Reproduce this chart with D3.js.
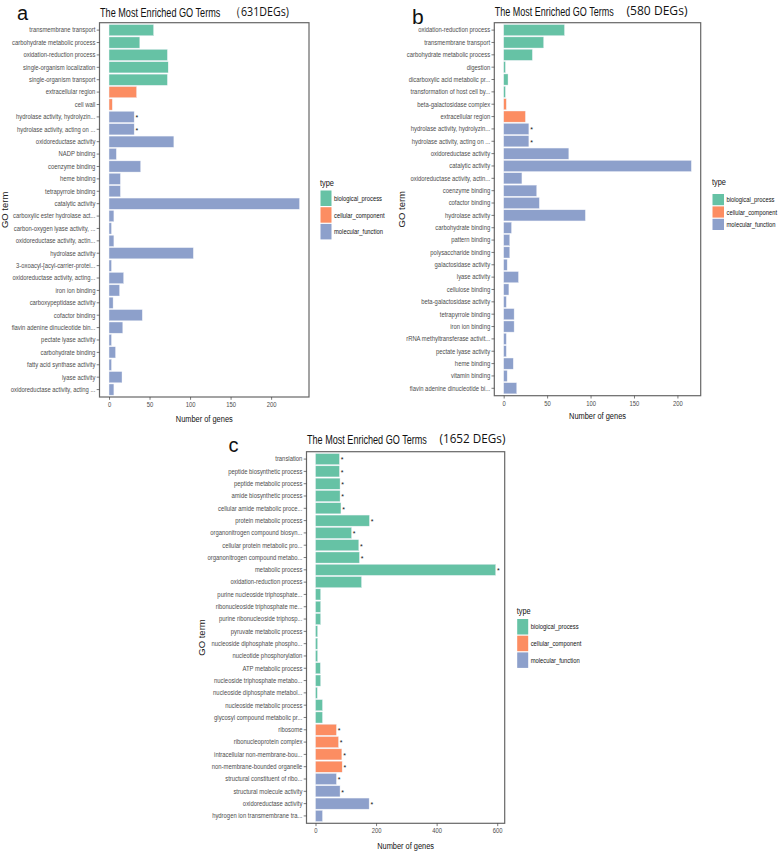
<!DOCTYPE html>
<html><head><meta charset="utf-8">
<script src="https://cdn.jsdelivr.net/npm/d3@7"></script>
<style>body{margin:0;background:#fff} svg{display:block}</style>
</head><body><svg id="c" width="778" height="852"></svg>
<script>
const typeNames = ["biological_process","cellular_component","molecular_function"];
const typeColors = ["#66C2A5","#FC8D62","#8DA0CB"];

// ---- Panel a ----
const catsA = ["transmembrane transport","carbohydrate metabolic process","oxidation-reduction process","single-organism localization","single-organism transport","extracellular region","cell wall","hydrolase activity, hydrolyzin...","hydrolase activity, acting on ...","oxidoreductase activity","NADP binding","coenzyme binding","heme binding","tetrapyrrole binding","catalytic activity","carboxylic ester hydrolase act...","carbon-oxygen lyase activity, ...","oxidoreductase activity, actin...","hydrolase activity","3-oxoacyl-[acyl-carrier-protei...","oxidoreductase activity, acting...","iron ion binding","carboxypeptidase activity","cofactor binding","flavin adenine dinucleotide bin...","pectate lyase activity","carbohydrate binding","fatty acid synthase activity","lyase activity","oxidoreductase activity, acting ..."];
const valsA = [55,38,72,73,72,34,4,31,31,80,9,39,14,14,235,6,3,6,104,3,18,13,5,41,17,3,8,3,16,6];
const typesA = [0,0,0,0,0,1,1,2,2,2,2,2,2,2,2,2,2,2,2,2,2,2,2,2,2,2,2,2,2,2];
const starsA = [0,0,0,0,0,0,0,1,1,0,0,0,0,0,0,0,0,0,0,0,0,0,0,0,0,0,0,0,0,0];
const ticksA = [0,50,100,150,200];

// ---- Panel b ----
const catsB = ["oxidation-reduction process","transmembrane transport","carbohydrate metabolic process","digestion","dicarboxylic acid metabolic pr...","transformation of host cell by...","beta-galactosidase complex","extracellular region","hydrolase activity, hydrolyzin...","hydrolase activity, acting on ...","oxidoreductase activity","catalytic activity","oxidoreductase activity, actin...","coenzyme binding","cofactor binding","hydrolase activity","carbohydrate binding","pattern binding","polysaccharide binding","galactosidase activity","lyase activity","cellulose binding","beta-galactosidase activity","tetrapyrrole binding","iron ion binding","rRNA methyltransferase activit...","pectate lyase activity","heme binding","vitamin binding","flavin adenine dinucleotide bi..."];
const valsB = [70,46,33,2,5,2,3,25,29,29,75,216,21,38,41,94,9,7,7,4,17,6,3,12,12,3,3,11,4,15];
const typesB = [0,0,0,0,0,0,1,1,2,2,2,2,2,2,2,2,2,2,2,2,2,2,2,2,2,2,2,2,2,2];
const starsB = [0,0,0,0,0,0,0,0,1,1,0,0,0,0,0,0,0,0,0,0,0,0,0,0,0,0,0,0,0,0];
const ticksB = [0,50,100,150,200];

// ---- Panel c ----
const catsC = ["translation","peptide biosynthetic process","peptide metabolic process","amide biosynthetic process","cellular amide metabolic proce...","protein metabolic process","organonitrogen compound biosyn...","cellular protein metabolic pro...","organonitrogen compound metabo...","metabolic process","oxidation-reduction process","purine nucleoside triphosphate...","ribonucleoside triphosphate me...","purine ribonucleoside triphosp...","pyruvate metabolic process","nucleoside diphosphate phospho...","nucleotide phosphorylation","ATP metabolic process","nucleoside triphosphate metabo...","nucleoside diphosphate metabol...","nucleoside metabolic process","glycosyl compound metabolic pr...","ribosome","ribonucleoprotein complex","intracellular non-membrane-bou...","non-membrane-bounded organelle","structural constituent of ribo...","structural molecule activity","oxidoreductase activity","hydrogen ion transmembrane tra..."];
const valsC = [79,79,81,81,84,178,119,143,145,595,152,17,17,17,7,7,7,16,17,6,23,23,69,76,87,88,69,81,177,23];
const typesC = [0,0,0,0,0,0,0,0,0,0,0,0,0,0,0,0,0,0,0,0,0,0,1,1,1,1,2,2,2,2];
const starsC = [1,1,1,1,1,1,1,1,1,1,0,0,0,0,0,0,0,0,0,0,0,0,1,1,1,1,1,1,1,0];
const ticksC = [0,200,400,600];

const SANS = "'Liberation Sans',Arial,sans-serif";
const svg = d3.select("#c");

function measure(str, size, family) {
  const t = svg.append("text").attr("font-size", size).attr("font-family", family).text(str);
  const w = t.node().getComputedTextLength(); t.remove(); return w;
}
const TICK_FS = 7.3;
const SQ = 72 / measure("oxidation-reduction process", TICK_FS, SANS); // condensed look

// horizontal squeeze via transform (keeps anchor position)
function squeeze(sel, f) {
  sel.each(function(){
    const s = d3.select(this);
    const x0 = +s.attr("x") || 0, y0 = +s.attr("y") || 0;
    const prev = s.attr("transform") || "";
    s.attr("x", 0).attr("y", 0).attr("transform", `${prev} translate(${x0},${y0}) scale(${f},1)`);
  });
}
function fit(sel, target) {
  sel.each(function(){ squeeze(d3.select(this), target / this.getComputedTextLength()); });
}

function panel(o) {
  const g = svg.append("g");
  const max = d3.max(o.vals);
  const x = d3.scaleLinear().domain([-0.05*max, 1.05*max]).range([o.l, o.r]);
  const y = d3.scaleBand().domain(o.cats).range([o.t, o.b]).paddingInner(0.1).paddingOuter(0.15);
  const data = o.cats.map((c,i)=>({c, v:o.vals[i], t:o.types[i], s:o.stars[i]}));

  g.selectAll("rect.bar").data(data).enter().append("rect")
    .attr("class","bar")
    .attr("x", x(0)).attr("y", d=>y(d.c))
    .attr("width", d=>x(d.v)-x(0)).attr("height", y.bandwidth())
    .attr("fill", d=>typeColors[d.t]).attr("stroke","#eef1f7").attr("stroke-width",0.4);

  g.selectAll("text.star").data(data.filter(d=>d.s)).enter().append("text")
    .attr("x", d=>x(d.v)+1.3).attr("y", d=>y(d.c)+y.bandwidth()/2+3.3)
    .attr("font-size", 7).attr("font-family", SANS).attr("fill","#111").text("*");

  g.append("rect").attr("x",o.l).attr("y",o.t).attr("width",o.r-o.l).attr("height",o.b-o.t)
    .attr("fill","none").attr("stroke","#666").attr("stroke-width",1.2);

  const ya = g.append("g").attr("transform",`translate(${o.l},0)`).call(d3.axisLeft(y).tickSize(2.8).tickPadding(1.3));
  ya.select(".domain").remove();
  ya.selectAll("line").attr("stroke","#444").attr("stroke-width",0.7);
  ya.selectAll("text").attr("font-family",SANS).attr("font-size",TICK_FS).attr("fill","#4d4d4d").call(squeeze, SQ);

  const xa = g.append("g").attr("transform",`translate(0,${o.b})`).call(d3.axisBottom(x).tickValues(o.ticks).tickSize(2.8).tickPadding(2));
  xa.select(".domain").remove();
  xa.selectAll("line").attr("stroke","#444").attr("stroke-width",0.7);
  xa.selectAll("text").attr("font-family",SANS).attr("font-size",TICK_FS).attr("fill","#4d4d4d").call(squeeze, SQ);

  g.append("text").attr("x",(o.l+o.r)/2).attr("y",o.xlabY).attr("text-anchor","middle")
    .attr("font-family",SANS).attr("font-size",9.5).attr("fill","#111").text("Number of genes").call(fit, 57);
  g.append("text").attr("transform",`translate(${o.ylabX},${(o.t+o.b)/2}) rotate(-90)`).attr("text-anchor","middle")
    .attr("font-family",SANS).attr("font-size",9.5).attr("fill","#222").text("GO term");

  g.append("text").attr("x",o.l+0.5).attr("y",o.titleY).attr("font-family",SANS).attr("font-size",13)
    .attr("fill","#111").text("The Most Enriched GO Terms").call(fit, o.titleW);
  g.append("text").attr("x",o.degX).attr("y",o.titleY-1).attr("font-family","'Open Sans','DejaVu Sans',sans-serif")
    .attr("font-size",12.5).attr("fill","#111").text(o.deg).call(fit, o.degW);
  g.append("text").attr("x",o.letX).attr("y",o.letY).attr("font-family",SANS)
    .attr("font-size",o.letFs).attr("fill","#111").text(o.letter);

  const lg = g.append("g");
  lg.append("text").attr("x",o.legX).attr("y",o.legY).attr("font-family",SANS).attr("font-size",9.5).attr("fill","#111").text("type").call(fit, 14);
  const LSQ = 48/measure("biological_process",7.6,SANS);
  typeNames.forEach((nm,i)=>{
    const ky = o.legY+o.legOff + i*(o.keyH+1.2);
    lg.append("rect").attr("x",o.legX+0.5).attr("y",ky).attr("width",o.keyW).attr("height",o.keyH).attr("fill",typeColors[i]);
    lg.append("text").attr("x",o.legX+o.keyW+3).attr("y",ky+o.keyH/2+2.6).attr("font-family",SANS)
      .attr("font-size",7.6).attr("fill","#111").text(nm).call(squeeze, LSQ);
  });
}

panel({cats:catsA, vals:valsA, types:typesA, stars:starsA, ticks:ticksA,
  l:99.5, r:309, t:22.7, b:397, xlabY:421.5, ylabX:8, titleY:16.7, titleW:120.5, degX:230, degW:59, deg:"（631DEGs)",
  letter:"a", letX:17, letY:19.5, letFs:20, legX:320, legY:185.5, legOff:5, keyW:11, keyH:15.5});
panel({cats:catsB, vals:valsB, types:typesB, stars:starsB, ticks:ticksB,
  l:494.3, r:700.7, t:22.7, b:395.7, xlabY:418.5, ylabX:405, titleY:16.2, titleW:119, degX:626.5, degW:61, deg:"(580 DEGs)",
  letter:"b", letX:412, letY:24, letFs:21, legX:712, legY:184.5, legOff:9.5, keyW:11.5, keyH:11.2});
panel({cats:catsC, vals:valsC, types:typesC, stars:starsC, ticks:ticksC,
  l:306.5, r:504.7, t:451.7, b:823.3, xlabY:849, ylabX:205, titleY:444.3, titleW:120, degX:439.5, degW:66, deg:"(1652 DEGs)",
  letter:"c", letX:228.5, letY:451.7, letFs:20, legX:516.7, legY:614, legOff:5, keyW:11, keyH:15.5});
</script></body></html>
